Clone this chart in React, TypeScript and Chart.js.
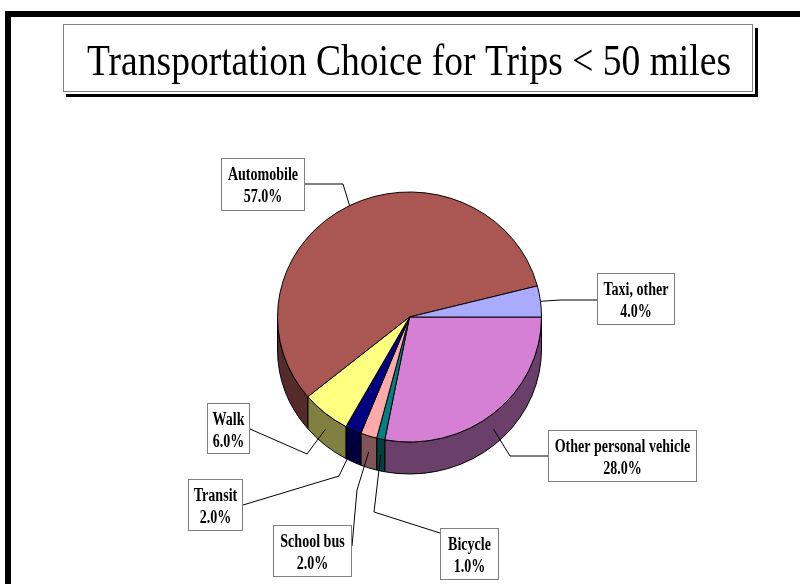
import React, { useEffect, useRef } from 'react';
import { Chart, registerables } from 'chart.js';

Chart.register(...registerables);

const categories = ['Other personal vehicle', 'Bicycle', 'School bus', 'Transit', 'Walk', 'Automobile', 'Taxi, other'];
const shares = [28, 1, 2, 2, 6, 57, 4];
const topColors = ['#D580D5', '#008080', '#FFAAAA', '#000080', '#FFFF80', '#AA5753', '#AAAAFF'];
const sideColors = ['#6A406A', '#004040', '#805555', '#000040', '#808040', '#552B2A', '#555580'];
const titleText = 'Transportation Choice for Trips < 50 miles';

// layout of the callout boxes (x, y, w, h) and leader elbows, same order as categories
const labelLayout = [
  { box: [548, 430, 149, 52], path: [[510, 456], [548, 456]] },
  { box: [440, 528, 59, 52], path: [[374, 512], [440, 533]] },
  { box: [273, 525, 79, 52], path: [[357, 490], [352, 546]] },
  { box: [188, 479, 55, 52], path: [[339, 476], [243, 505]] },
  { box: [207, 403, 43, 51], path: [[307, 454], [250, 429]] },
  { box: [221, 158, 84, 53], path: [[343, 184], [305, 184]] },
  { box: [597, 273, 78, 52], path: [[560, 300], [597, 300]] },
];

const RADIUS = 132;
const SQUASH = 125 / 132;
const DEPTH = 32;

const pie3d = {
  id: 'pie3d',
  beforeDatasetsDraw(chart: any) {
    const ctx = chart.ctx;
    const meta = chart.getDatasetMeta(0);
    meta.data.forEach((arc: any, i: number) => {
      const { x, y, startAngle, endAngle, outerRadius } = arc.getProps(['x', 'y', 'startAngle', 'endAngle', 'outerRadius'], true);
      const rx = outerRadius;
      const ry = outerRadius * SQUASH;
      const a1 = Math.max(startAngle, 0);
      const a2 = Math.min(endAngle, Math.PI);
      if (a2 <= a1) return;
      ctx.save();
      ctx.beginPath();
      ctx.moveTo(x + rx * Math.cos(a1), y + ry * Math.sin(a1));
      ctx.ellipse(x, y, rx, ry, 0, a1, a2, false);
      ctx.lineTo(x + rx * Math.cos(a2), y + ry * Math.sin(a2) + DEPTH);
      ctx.ellipse(x, y + DEPTH, rx, ry, 0, a2, a1, true);
      ctx.closePath();
      ctx.fillStyle = sideColors[i];
      ctx.fill();
      ctx.lineWidth = 1;
      ctx.strokeStyle = '#000';
      ctx.stroke();
      ctx.restore();
    });
    const c = meta.data[0];
    ctx.save();
    ctx.translate(c.x, c.y);
    ctx.scale(1, SQUASH);
    ctx.translate(-c.x, -c.y);
  },
  afterDatasetsDraw(chart: any) {
    const ctx = chart.ctx;
    ctx.restore();
    const meta = chart.getDatasetMeta(0);
    // leader lines
    meta.data.forEach((arc: any, i: number) => {
      const { x, y, startAngle, endAngle, outerRadius } = arc.getProps(['x', 'y', 'startAngle', 'endAngle', 'outerRadius'], true);
      const mid = (startAngle + endAngle) / 2;
      const sx = x + outerRadius * Math.cos(mid);
      let sy = y + outerRadius * SQUASH * Math.sin(mid);
      if (Math.sin(mid) > 0) sy += DEPTH / 2;
      const lay = labelLayout[i];
      ctx.save();
      ctx.beginPath();
      ctx.moveTo(sx, sy);
      lay.path.forEach((p) => ctx.lineTo(p[0], p[1]));
      ctx.lineWidth = 1;
      ctx.strokeStyle = '#000';
      ctx.stroke();
      ctx.restore();
    });
    // boxes
    meta.data.forEach((arc: any, i: number) => {
      const [bx, by, bw, bh] = labelLayout[i].box;
      ctx.save();
      ctx.fillStyle = '#fff';
      ctx.fillRect(bx, by, bw, bh);
      ctx.strokeStyle = '#808080';
      ctx.lineWidth = 1;
      ctx.strokeRect(bx + 0.5, by + 0.5, bw - 1, bh - 1);
      ctx.fillStyle = '#000';
      ctx.font = 'bold 18px "Liberation Serif"';
      ctx.textAlign = 'center';
      ctx.textBaseline = 'alphabetic';
      const lines = [categories[i], shares[i].toFixed(1) + '%'];
      lines.forEach((t, k) => {
        ctx.save();
        ctx.translate(bx + bw / 2, by + 22 + k * 22);
        ctx.scale(0.78, 1);
        ctx.fillText(t, 0, 0);
        ctx.restore();
      });
      ctx.restore();
    });
  },
  afterDraw(chart: any) {
    const ctx = chart.ctx;
    ctx.save();
    // frame
    ctx.fillStyle = '#000';
    ctx.fillRect(5, 11, 6, 573);
    ctx.fillRect(5, 11, 795, 6);
    // title shadow
    ctx.fillRect(755, 28, 3, 69);
    ctx.fillRect(66, 94, 692, 3);
    // title box
    ctx.fillStyle = '#fff';
    ctx.fillRect(63, 24, 690, 68);
    ctx.strokeStyle = '#808080';
    ctx.lineWidth = 1;
    ctx.strokeRect(63.5, 24.5, 689, 67);
    ctx.fillStyle = '#000';
    ctx.font = '45px "Liberation Serif"';
    ctx.textAlign = 'center';
    ctx.textBaseline = 'alphabetic';
    const w = ctx.measureText(titleText).width;
    ctx.translate(409, 75);
    ctx.scale(644 / w, 1);
    ctx.fillText(titleText, 0, 0);
    ctx.restore();
  },
};

export default function App() {
  const ref = useRef<HTMLCanvasElement>(null);
  useEffect(() => {
    if (!ref.current) return;
    const chart = new Chart(ref.current, {
      type: 'pie',
      data: {
        labels: categories,
        datasets: [
          {
            data: shares,
            backgroundColor: topColors,
            borderColor: '#000',
            borderWidth: 1,
            radius: RADIUS,
          } as any,
        ],
      },
      options: {
        responsive: false,
        maintainAspectRatio: false,
        animation: false,
        devicePixelRatio: 1,
        rotation: 90,
        events: [],
        layout: { padding: { left: 150, right: 131, top: 100, bottom: 50 } },
        plugins: {
          legend: { display: false },
          title: { display: false },
          tooltip: { enabled: false },
        },
      },
      plugins: [pie3d],
    });
    return () => chart.destroy();
  }, []);
  return (
    <div style={{ position: 'fixed', left: 0, top: 0, width: 800, height: 584, background: '#fff' }}>
      <canvas ref={ref} width={800} height={584} />
    </div>
  );
}
